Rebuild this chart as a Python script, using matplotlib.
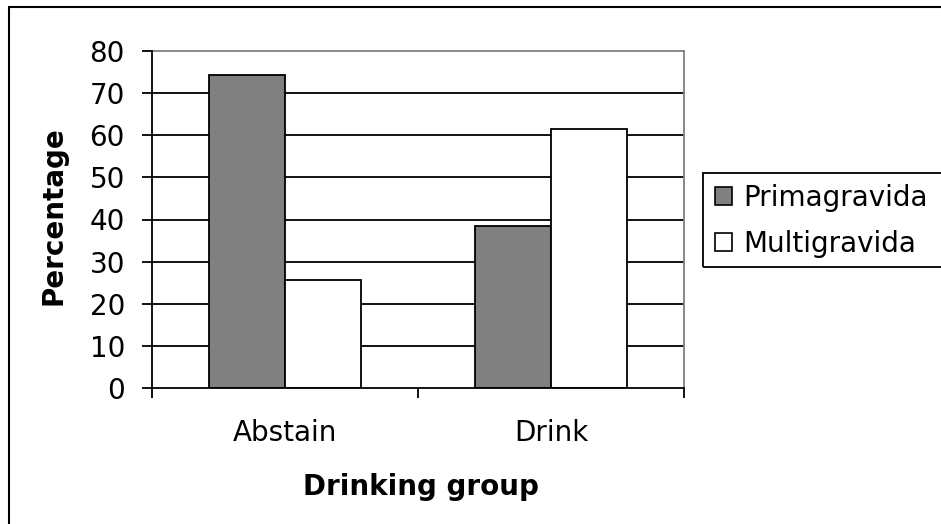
import numpy as np
import matplotlib
matplotlib.use('Agg')
import matplotlib.pyplot as plt
from matplotlib.patches import Rectangle, Patch
from matplotlib.ticker import FixedLocator

groups = ['Abstain', 'Drink']
series_names = ['Primagravida', 'Multigravida']
primagravida = [74.3, 38.4]
multigravida = [25.7, 61.6]
yticks = [0, 10, 20, 30, 40, 50, 60, 70, 80]

W, H = 941, 524
fig = plt.figure(figsize=(W / 100, H / 100), dpi=100)
ax = fig.add_axes([152 / W, 1 - 388 / H, (684 - 152) / W, (388 - 51) / H])

x = np.arange(len(groups))
bw = 1 / 3.5
ax.bar(x - bw / 2, primagravida, bw, color='#808080', edgecolor='black', linewidth=1.3, zorder=3)
ax.bar(x + bw / 2, multigravida, bw, color='white', edgecolor='black', linewidth=1.3, zorder=3)

ax.set_xlim(-0.5, 1.5)
ax.set_ylim(0, 80)
ax.set_yticks(yticks)
for v in yticks[1:-1]:
    ax.axhline(v, color='black', linewidth=1.3, zorder=1)

# category labels at centres, ticks at the boundaries
ax.set_xticks(x)
ax.set_xticklabels(groups)
ax.xaxis.set_minor_locator(FixedLocator([-0.5, 0.5, 1.5]))
ax.tick_params(axis='x', which='major', length=0, pad=22, labelsize=20)
ax.tick_params(axis='x', which='minor', length=7, width=1.3, direction='out')
ax.tick_params(axis='y', length=7.5, width=1.3, direction='out', pad=12, labelsize=20)

for s in ['top', 'right']:
    ax.spines[s].set_color('#808080')
    ax.spines[s].set_linewidth(1.3)
for s in ['left', 'bottom']:
    ax.spines[s].set_color('black')
    ax.spines[s].set_linewidth(1.3)
    ax.spines[s].set_zorder(4)

fig.text(53 / W, 1 - 216 / H, 'Percentage', rotation=90, ha='center', va='center',
         fontsize=20, fontweight='bold')
fig.text(421 / W, 1 - 487 / H, 'Drinking group', ha='center', va='center',
         fontsize=20, fontweight='bold')

handles = [Patch(facecolor='#808080', edgecolor='black', linewidth=1.2),
           Patch(facecolor='white', edgecolor='black', linewidth=1.2)]
fig.legend(handles, series_names, loc='upper left', bbox_to_anchor=(715 / W, 1 - 184 / H),
           frameon=False, fontsize=20, handlelength=0.6, handleheight=0.6,
           handletextpad=0.4, labelspacing=0.65, borderaxespad=0, borderpad=0)
fig.patches.append(Rectangle((703 / W, 1 - 267 / H), 0.3, 94 / H, transform=fig.transFigure,
                             facecolor='none', edgecolor='black', linewidth=1.3))
fig.patches.append(Rectangle((9 / W, -0.05), 1.1, 1.05 - 7 / H, transform=fig.transFigure,
                             facecolor='none', edgecolor='black', linewidth=1.5))

fig.savefig('out.png', dpi=100)
